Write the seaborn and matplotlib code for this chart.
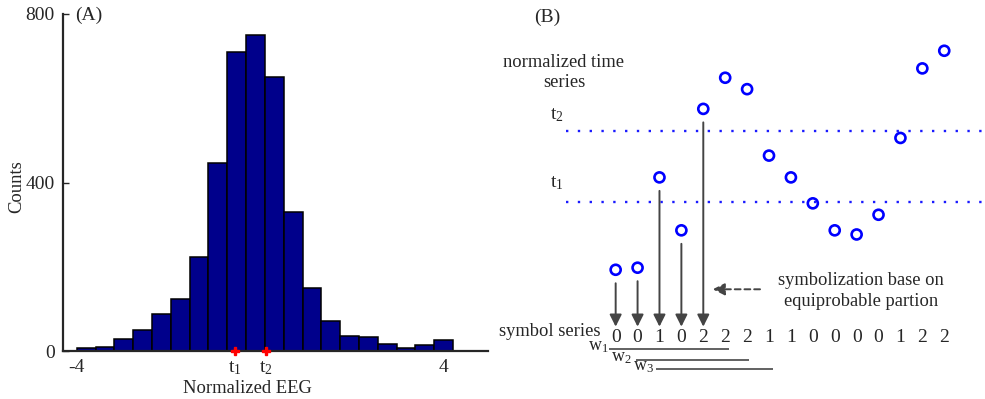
import numpy as np
import pandas as pd
import matplotlib
matplotlib.use('Agg')
import matplotlib.pyplot as plt
import seaborn as sns

# ---- data --------------------------------------------------------------
# (A) histogram of the normalized EEG
bin_start = -4.0
bin_width = 0.41
counts = [8, 10, 29, 50, 87, 124, 222, 446, 710, 751,
          651, 331, 150, 71, 36, 33, 17, 7, 14, 26]
t1 = -0.56
t2 = 0.13
xtick_vals = [-4, t1, t2, 4]
xtick_labels = ['-4', r'$\mathrm{t}_{1}$', r'$\mathrm{t}_{2}$', '4']
ytick_vals = [0, 400, 800]

# (B) normalized time series and its symbols
ts_values = [-1.21, -1.19, -0.32, -0.83, 0.34, 0.64, 0.53, -0.11,
             -0.32, -0.57, -0.83, -0.87, -0.68, 0.06, 0.73, 0.90]
n_arrows = 5
window_labels = [r'$\mathrm{w}_{1}$', r'$\mathrm{w}_{2}$', r'$\mathrm{w}_{3}$']

# ---- style -------------------------------------------------------------
sns.set_style('ticks')
plt.rcParams['font.family'] = ['Liberation Serif', 'DejaVu Serif']
plt.rcParams['mathtext.fontset'] = 'custom'
plt.rcParams['mathtext.rm'] = 'Liberation Serif'
plt.rcParams['mathtext.it'] = 'Liberation Serif:italic'

fig = plt.figure(figsize=(9.85, 3.99), dpi=100)

# ---- (A) ---------------------------------------------------------------
ax1 = fig.add_axes([63 / 985, 48 / 399, 425 / 985, 337 / 399])
nbins = len(counts)
edges = bin_start + bin_width * np.arange(nbins + 1)
centers = (edges[:-1] + edges[1:]) / 2
hist_df = pd.DataFrame({'eeg': centers, 'count': counts})
sns.histplot(data=hist_df, x='eeg', weights='count', bins=nbins,
             binrange=(edges[0], edges[-1]), color='#00008B',
             edgecolor='black', linewidth=1.1, alpha=1, ax=ax1)
ax1.plot([t1, t2], [0, 0], linestyle='none', marker='P', color='red',
         markersize=6, clip_on=False, zorder=5)
ax1.set_xlim(-4.3, 4.96)
ax1.set_ylim(0, 800)
ax1.set_xticks(xtick_vals)
ax1.set_xticklabels(xtick_labels)
ax1.set_yticks(ytick_vals)
ax1.tick_params(axis='x', length=0, pad=6, labelsize=14)
ax1.tick_params(axis='y', direction='in', length=4, width=1, pad=6, labelsize=14)
for s in ['top', 'right']:
    ax1.spines[s].set_visible(False)
for s in ['left', 'bottom']:
    ax1.spines[s].set_linewidth(1.6)
ax1.set_xlabel('Normalized EEG', fontsize=13.4)
ax1.set_ylabel('Counts', fontsize=13.4)
ax1.xaxis.set_label_coords(0.435, -0.085)
ax1.yaxis.set_label_coords(-0.108, 0.487)
ax1.yaxis.label.set_va('center')
ax1.text(0.028, 0.995, '(A)', transform=ax1.transAxes, ha='left',
         va='center', fontsize=14)

# ---- (B) ---------------------------------------------------------------
ax2 = fig.add_axes([500 / 985, 0, 485 / 985, 1])
ax2.set_xlim(-5.28, 16.86)
ax2.set_ylim(-2.455, 1.389)
ax2.axis('off')

idx = np.arange(len(ts_values))
symbols = np.digitize(ts_values, [t1, t2], right=True)

ax2.hlines([t1, t2], -2.27, 16.86, colors='#1a1aff', linewidth=1.7,
           linestyles=[(0, (1, 4.0))])
sns.scatterplot(x=idx, y=ts_values, marker='o', s=52, facecolors='none',
                edgecolor='#0000ff', linewidth=1.9, ax=ax2, zorder=4)

fs = 13.3
sym_y = -1.864
gray = '#444444'
for i in range(n_arrows):
    ax2.annotate('', xy=(i, -1.758), xytext=(i, ts_values[i] - 0.13),
                 arrowprops=dict(arrowstyle='-|>', color=gray, lw=1.4,
                                 mutation_scale=18, shrinkA=0, shrinkB=0))
for i, s in zip(idx, symbols):
    ax2.text(i, sym_y, str(s), ha='center', va='center', fontsize=14)

ax2.text(-0.67, -1.807, 'symbol series', ha='right', va='center', fontsize=fs)
ax2.text(-2.36, 0.687, 'normalized time\nseries', ha='center', va='center',
         fontsize=fs, linespacing=1.25)
ax2.text(-2.68, 0.281, r'$\mathrm{t}_{2}$', ha='center', va='center', fontsize=14)
ax2.text(-2.68, -0.371, r'$\mathrm{t}_{1}$', ha='center', va='center', fontsize=14)
ax2.text(-3.11, 1.225, '(B)', ha='center', va='center', fontsize=14)

ax2.annotate('', xy=(4.43, -1.398), xytext=(6.59, -1.398),
             arrowprops=dict(arrowstyle='-|>', color=gray, lw=1.4,
                             linestyle=(0, (3, 2)), mutation_scale=18,
                             shrinkA=0, shrinkB=0))
ax2.text(11.19, -1.415, 'symbolization base on\nequiprobable partion',
         ha='center', va='center', fontsize=fs, linespacing=1.3)

w_x0 = [-0.30, 0.91, 1.83]
w_x1 = [5.17, 6.09, 7.18]
w_y = [-1.973, -2.079, -2.163]
w_lab_x = [-0.81, 0.24, 1.25]
ax2.hlines(w_y, w_x0, w_x1, colors='#555555', linewidth=1.3)
for lx, ly, lab in zip(w_lab_x, w_y, window_labels):
    ax2.text(lx, ly + 0.02, lab, ha='center', va='center', fontsize=13)

fig.savefig('out.png', dpi=100)
